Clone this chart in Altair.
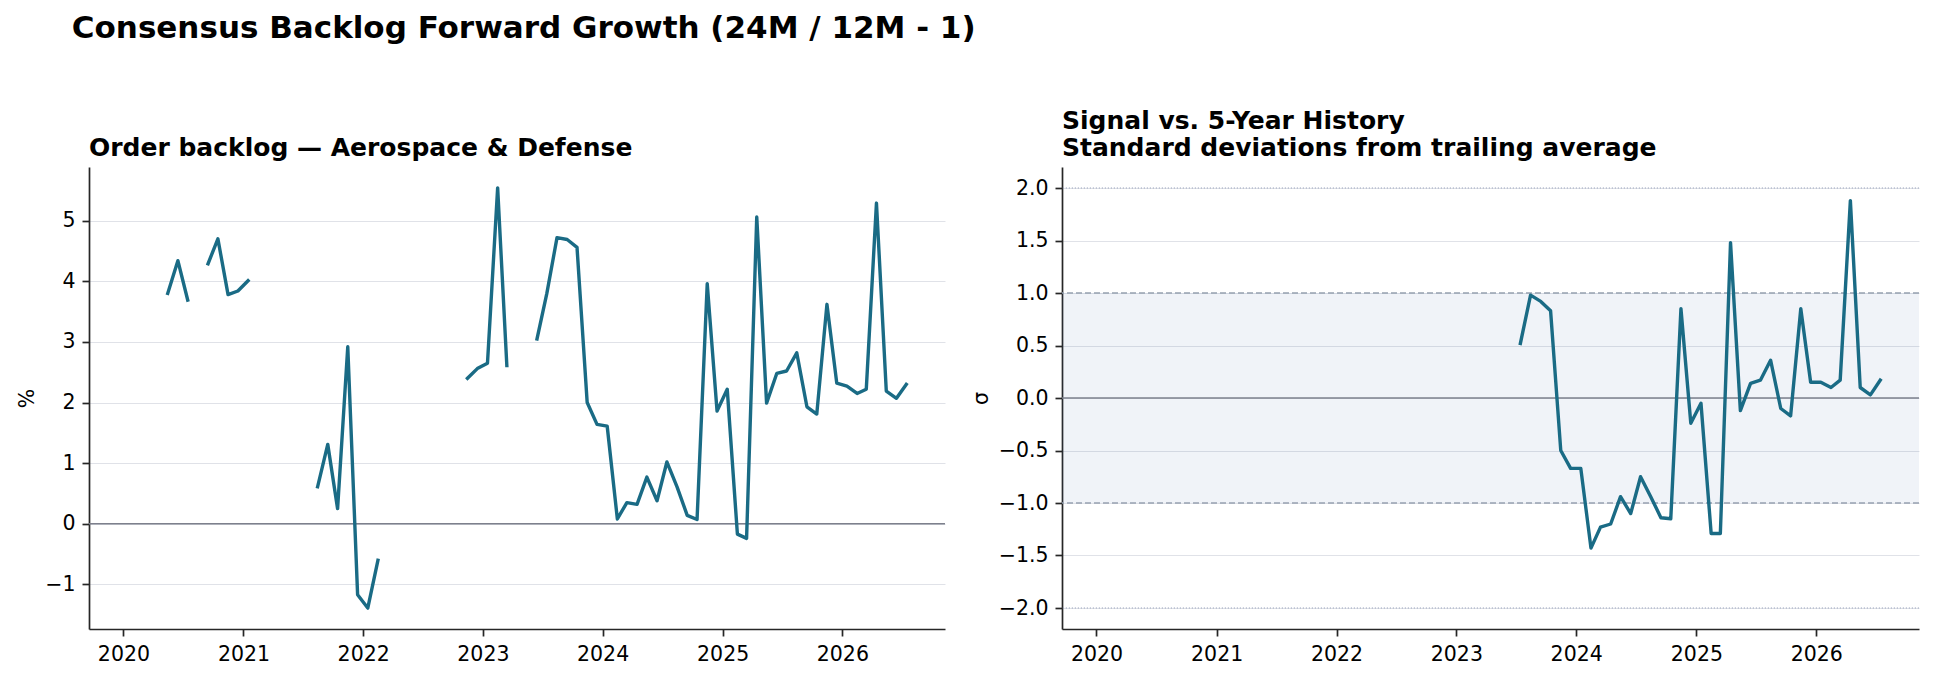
import altair as alt
import pandas as pd

FONT = "DejaVu Sans"
LINE_COLOR = "#1a6b85"

# ---- data (monthly observations, mid-month) ----
left_seg_starts = ["2020-05", "2020-09", "2021-08", "2022-11", "2023-06"]
left_seg_values = [
    [3.80, 4.34, 3.69],
    [4.29, 4.70, 3.78, 3.84, 4.01],
    [0.61, 1.31, 0.25, 2.92, -1.17, -1.39, -0.60],
    [2.40, 2.56, 2.65, 5.54, 2.61],
    [3.05, 3.80, 4.72, 4.69, 4.56, 2.00, 1.64, 1.61, 0.08, 0.35, 0.32, 0.77,
     0.38, 1.02, 0.61, 0.14, 0.07, 3.96, 1.86, 2.22, -0.17, -0.24, 5.06, 1.99,
     2.48, 2.52, 2.82, 1.93, 1.81, 3.62, 2.32, 2.27, 2.15, 2.22, 5.29, 2.19,
     2.07, 2.30],
]
right_seg_starts = ["2023-07"]
right_seg_values = [
    [0.52, 0.98, 0.92, 0.83, -0.50, -0.67, -0.67, -1.43, -1.23, -1.20, -0.94,
     -1.10, -0.75, -0.94, -1.14, -1.15, 0.85, -0.24, -0.05, -1.29, -1.29, 1.48,
     -0.12, 0.14, 0.17, 0.36, -0.10, -0.17, 0.85, 0.15, 0.15, 0.10, 0.17, 1.88,
     0.10, 0.03, 0.17],
]

left_ticks = [-1, 0, 1, 2, 3, 4, 5]
right_ticks = [-2.0, -1.5, -1.0, -0.5, 0.0, 0.5, 1.0, 1.5, 2.0]
band_limits = [-1, 1]
outer_limits = [-2, 2]
years = [2020, 2021, 2022, 2023, 2024, 2025, 2026]


def build(starts, values):
    rows = []
    for i, (s, vals) in enumerate(zip(starts, values)):
        dates = pd.date_range(s + "-15", periods=len(vals), freq=pd.DateOffset(months=1))
        for d, v in zip(dates, vals):
            rows.append({"date": d.strftime("%Y-%m-%d"), "value": v, "seg": i})
    return pd.DataFrame(rows)


left_df = build(left_seg_starts, left_seg_values)
right_df = build(right_seg_starts, right_seg_values)
dummy = pd.DataFrame({"k": [0]})

W_LEFT, W_RIGHT, H = 856, 857, 462

xscale = alt.Scale(
    type="utc",
    domain=[alt.DateTime(year=2019, month=9, date=18, utc=True),
            alt.DateTime(year=2026, month=11, date=10, utc=True)],
    nice=False,
)
xaxis = alt.Axis(
    values=[alt.DateTime(year=y, month=1, date=1, utc=True) for y in years],
    format="%Y", grid=False, title=None, labelPadding=8,
)

DOMAIN_COLOR = "#262626"


def yaxis(ticks, title, fmt):
    return alt.Axis(
        values=ticks, format=fmt, title=title, grid=True,
        gridColor="#e0e2e8", gridWidth=1, labelPadding=7, titlePadding=7,
        titleAngle=-90,
    )


# ---- left panel ----
yscale_l = alt.Scale(domain=[-1.735, 5.885], nice=False, zero=False)
yaxis_l = yaxis(left_ticks, "%", "d")

zero_l = alt.Chart(dummy).mark_rule(color="#7d808c", strokeWidth=1.4).encode(
    y=alt.YDatum(0, type="quantitative", scale=yscale_l, axis=yaxis_l)
)
line_l = alt.Chart(left_df).mark_line(
    color=LINE_COLOR, strokeWidth=3.4, strokeJoin="round", strokeCap="square"
).encode(
    x=alt.X("date:T", scale=xscale, axis=xaxis),
    y=alt.Y("value:Q", scale=yscale_l, axis=yaxis_l),
    detail="seg:N",
)
left = alt.layer(zero_l, line_l).properties(
    width=W_LEFT, height=H,
    title=alt.Title("Order backlog — Aerospace & Defense", anchor="start",
                    frame="group", fontSize=25, font=FONT, fontWeight="bold",
                    color="black", offset=6),
)

# ---- right panel ----
yscale_r = alt.Scale(domain=[-2.2, 2.2], nice=False, zero=False)
yaxis_r = yaxis(right_ticks, "σ", ".1f")

band = alt.Chart(dummy).mark_rect(color="#3b6aa0", opacity=0.08).encode(
    y=alt.YDatum(band_limits[1], type="quantitative", scale=yscale_r, axis=yaxis_r),
    y2=alt.Y2Datum(band_limits[0]),
)
zero_r = alt.Chart(dummy).mark_rule(color="#7d808c", strokeWidth=1.4).encode(
    y=alt.YDatum(0, type="quantitative", scale=yscale_r, axis=yaxis_r)
)
dashed = [
    alt.Chart(dummy).mark_rule(color="#97a1b0", strokeWidth=1.3, strokeDash=[6, 3]).encode(
        y=alt.YDatum(v, type="quantitative", scale=yscale_r, axis=yaxis_r))
    for v in band_limits
]
dotted = [
    alt.Chart(dummy).mark_rule(color="#9aa3bd", strokeWidth=1.1, strokeDash=[1.2, 1.8]).encode(
        y=alt.YDatum(v, type="quantitative", scale=yscale_r, axis=yaxis_r))
    for v in outer_limits
]
line_r = alt.Chart(right_df).mark_line(
    color=LINE_COLOR, strokeWidth=3.4, strokeJoin="round", strokeCap="square"
).encode(
    x=alt.X("date:T", scale=xscale, axis=xaxis),
    y=alt.Y("value:Q", scale=yscale_r, axis=yaxis_r),
    detail="seg:N",
)
right = alt.layer(band, zero_r, *dashed, *dotted, line_r).properties(
    width=W_RIGHT, height=H,
    title=alt.Title(["Signal vs. 5-Year History", "Standard deviations from trailing average"],
                    anchor="start", frame="group", fontSize=25, font=FONT,
                    fontWeight="bold", color="black", offset=6, lineHeight=27),
)

chart = alt.hconcat(left, right, spacing=117, bounds="flush").properties(
    title=alt.Title("Consensus Backlog Forward Growth (24M / 12M - 1)", anchor="start",
                    fontSize=31, font=FONT, fontWeight="bold", color="black",
                    offset=64, dx=54),
    padding={"left": 17, "top": 13, "right": 5, "bottom": 5},
    background="white",
).configure_view(stroke=None).configure_axis(
    labelFont=FONT, labelFontSize=20.5, labelColor="black",
    titleFont=FONT, titleFontSize=20.5, titleFontWeight="normal", titleColor="black",
    domainColor=DOMAIN_COLOR, domainWidth=1.7,
    tickColor=DOMAIN_COLOR, tickWidth=1.7, tickSize=7,
)

chart.save("out.html", embed_options={"renderer": "svg", "actions": False})
